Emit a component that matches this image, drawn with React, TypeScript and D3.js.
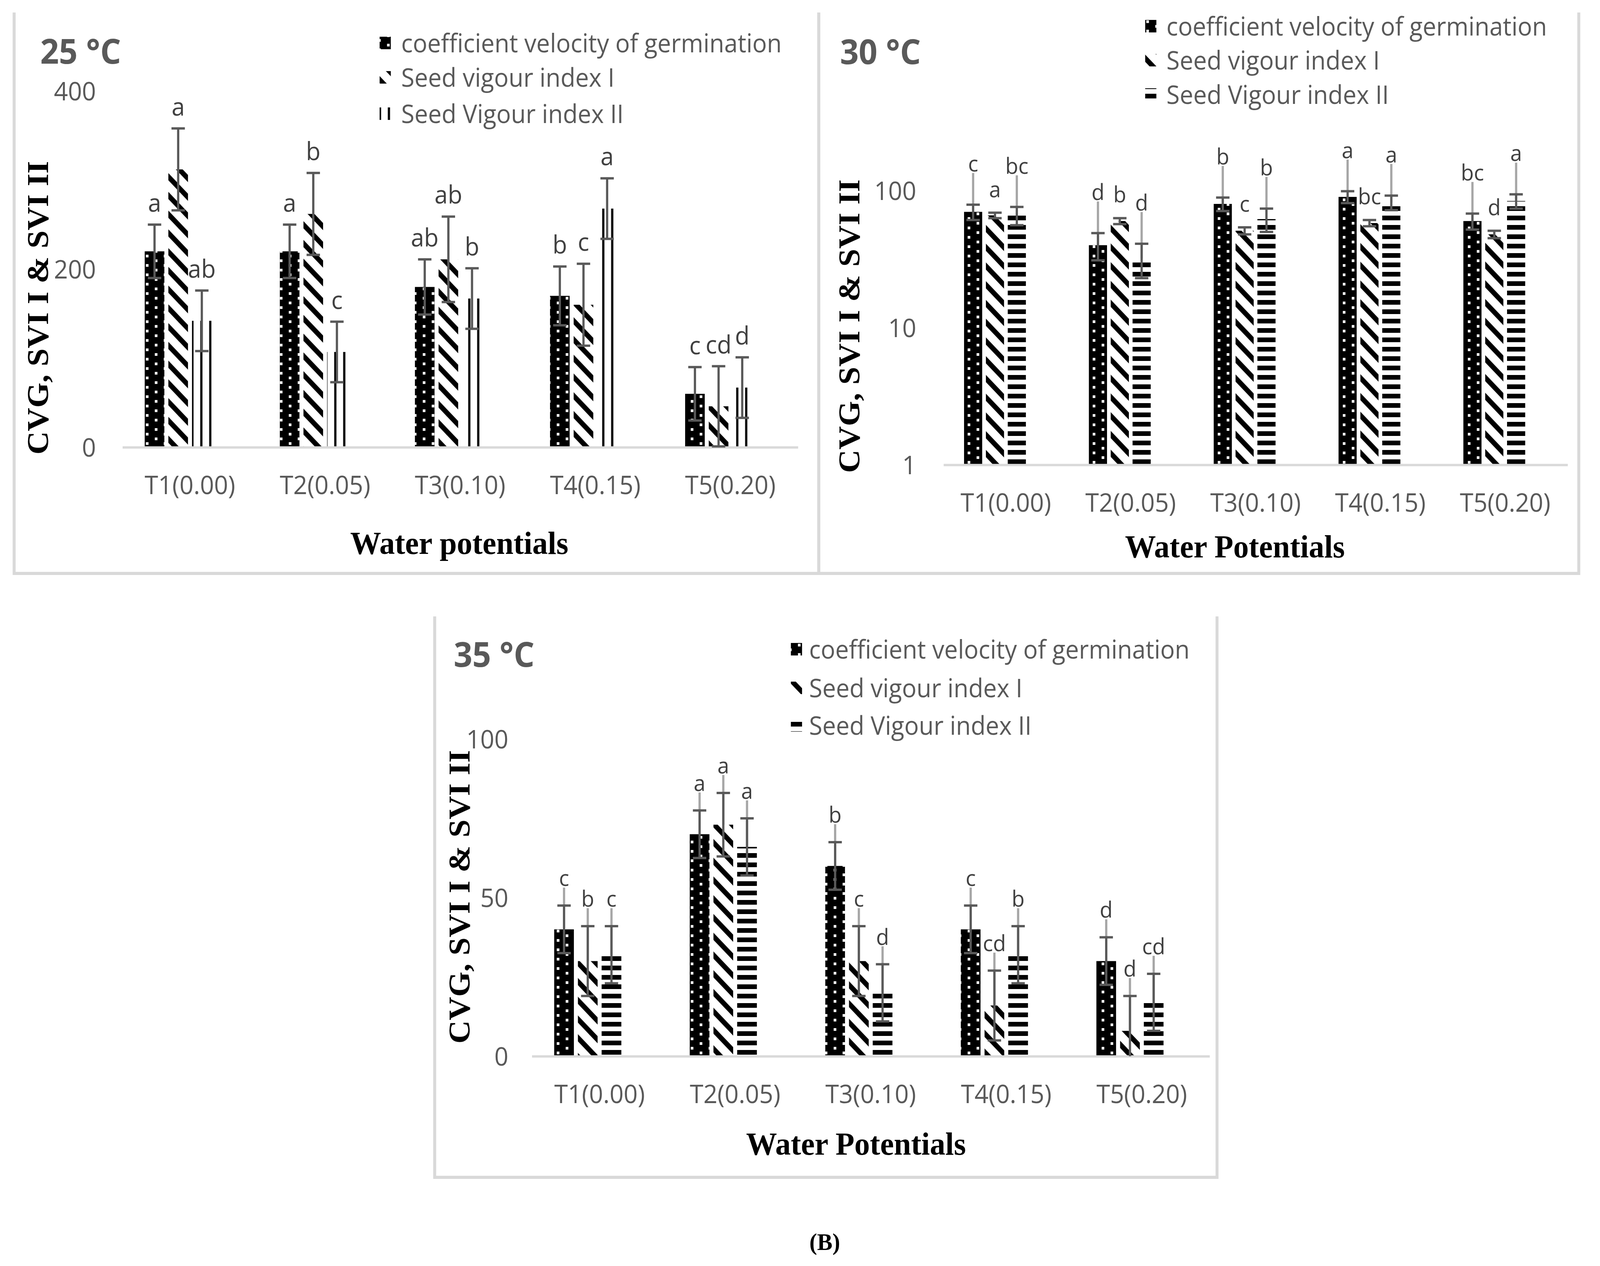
import * as d3 from "d3";
import { useEffect, useRef } from "react";

const W = 4299;
const H = 3241;

const categories = ["T1(0.00)", "T2(0.05)", "T3(0.10)", "T4(0.15)", "T5(0.20)"];
const seriesNames = [
  "coefficient velocity of germination",
  "Seed vigour index I",
  "Seed Vigour index II",
];

// 25 °C
const cvg25 = [220, 220, 180, 170, 60];
const cvg25Err = [30, 30, 31, 33, 30];
const svi1At25 = [312, 262, 211, 160, 46];
const svi1At25Err = [46, 46, 48, 46, 45];
const svi2At25 = [142, 107, 167, 268, 67];
const svi2At25Err = [34, 34, 34, 34, 34];
const cvg25Letters = ["a", "a", "ab", "b", "c"];
const svi1At25Letters = ["a", "b", "ab", "c", "cd"];
const svi2At25Letters = ["ab", "c", "b", "a", "d"];
const ticks25 = [0, 200, 400];

// 30 °C (log axis)
const cvg30 = [70, 40, 80, 90, 60];
const cvg30Err = [9, 9, 9, 9, 8];
const svi1At30 = [66, 60, 51, 58, 48];
const svi1At30Err = [3, 3, 3, 3, 3];
const svi2At30 = [66, 32, 62, 82, 84];
const svi2At30Err = [10, 9, 12, 10, 10];
const cvg30Letters = ["c", "d", "b", "a", "bc"];
const svi1At30Letters = ["a", "b", "c", "bc", "d"];
const svi2At30Letters = ["bc", "d", "b", "a", "a"];
const ticks30 = [1, 10, 100];

// 35 °C
const cvg35 = [40, 70, 60, 40, 30];
const cvg35Err = [7.5, 7.5, 7.5, 7.5, 7.5];
const svi1At35 = [30, 73, 30, 16, 8];
const svi1At35Err = [11, 10, 11, 11, 11];
const svi2At35 = [32, 66, 20, 32, 17];
const svi2At35Err = [9, 9, 9, 9, 9];
const cvg35Letters = ["c", "a", "b", "c", "d"];
const svi1At35Letters = ["b", "a", "c", "cd", "d"];
const svi2At35Letters = ["c", "a", "d", "b", "cd"];
const ticks35 = [0, 50, 100];

interface PanelSpec {
  temp: string;
  values: number[][];
  errs: number[][];
  letters: string[][];
  ticks: number[];
  log: boolean;
  yDomain: [number, number];
  frame: [number, number, number, number];
  axisX: [number, number];
  axisY: [number, number];
  tickRight: number;
  tempAt: [number, number];
  legendX: [number, number];
  legendY: number[];
  yTitleAt: [number, number];
  xTitle: string;
  xTitleAt: [number, number];
  patterns: string[];
  labelGap: number[];
  labelSize: number;
  leaders: boolean[];
}

const panels: PanelSpec[] = [
  {
    temp: "25 °C",
    values: [cvg25, svi1At25, svi2At25],
    errs: [cvg25Err, svi1At25Err, svi2At25Err],
    letters: [cvg25Letters, svi1At25Letters, svi2At25Letters],
    ticks: ticks25,
    log: false,
    yDomain: [0, 400],
    frame: [38, 2200, 32, 1468],
    axisX: [329, 2144],
    axisY: [1145, 233],
    tickRight: 258,
    tempAt: [108, 163],
    legendX: [1020, 1078],
    legendY: [134, 222, 315],
    yTitleAt: [101, 788],
    xTitle: "Water potentials",
    xTitleAt: [1234, 1418],
    patterns: ["pDots", "pDiag", "pVert"],
    labelGap: [33, 33, 33],
    labelSize: 64,
    leaders: [false, false, false],
  },
  {
    temp: "30 °C",
    values: [cvg30, svi1At30, svi2At30],
    errs: [cvg30Err, svi1At30Err, svi2At30Err],
    letters: [cvg30Letters, svi1At30Letters, svi2At30Letters],
    ticks: ticks30,
    log: true,
    yDomain: [1, 100],
    frame: [2200, 4242, 32, 1468],
    axisX: [2535, 4212],
    axisY: [1190, 488],
    tickRight: 2462,
    tempAt: [2257, 164],
    legendX: [3077, 3134],
    legendY: [91, 178, 266],
    yTitleAt: [2281, 835],
    xTitle: "Water Potentials",
    xTitleAt: [3318, 1427],
    patterns: ["pDots", "pDiag", "pHorz"],
    labelGap: [85, 40, 85],
    labelSize: 57,
    leaders: [true, false, true],
  },
  {
    temp: "35 °C",
    values: [cvg35, svi1At35, svi2At35],
    errs: [cvg35Err, svi1At35Err, svi2At35Err],
    letters: [cvg35Letters, svi1At35Letters, svi2At35Letters],
    ticks: ticks35,
    log: false,
    yDomain: [0, 100],
    frame: [1168, 3270, 1578, 3014],
    axisX: [1429, 3250],
    axisY: [2704, 1892],
    tickRight: 1366,
    tempAt: [1219, 1707],
    legendX: [2125, 2174],
    legendY: [1686, 1785, 1881],
    yTitleAt: [1234, 2296],
    xTitle: "Water Potentials",
    xTitleAt: [2300, 2956],
    patterns: ["pDots", "pDiag", "pHorz"],
    labelGap: [50, 50, 50],
    labelSize: 57,
    leaders: [true, true, true],
  },
];

const SANS = "'Open Sans', 'Noto Sans', sans-serif";
const SERIF = "'Liberation Serif', 'Times New Roman', serif";
const GREY_TEXT = "#595959";

type Sel = d3.Selection<SVGSVGElement, unknown, null, undefined>;

function addPatterns(svg: Sel) {
  const defs = svg.append("defs");

  // black with white dots
  const dots = defs.append("pattern").attr("id", "pDots")
    .attr("patternUnits", "userSpaceOnUse").attr("width", 48).attr("height", 48);
  dots.append("rect").attr("width", 48).attr("height", 48).attr("fill", "#000");
  [[0, 0], [0, 24], [24, 12], [24, 36]].forEach(([x, y]) => {
    dots.append("rect").attr("x", x + 8).attr("y", y + 4)
      .attr("width", 7).attr("height", 7).attr("fill", "#fff");
  });

  // wide downward diagonal
  const diag = defs.append("pattern").attr("id", "pDiag")
    .attr("patternUnits", "userSpaceOnUse").attr("width", 48).attr("height", 48);
  diag.append("rect").attr("width", 48).attr("height", 48).attr("fill", "#fff");
  [-48, 0, 48].forEach((o) => {
    diag.append("line")
      .attr("x1", o - 24).attr("y1", -24).attr("x2", o + 72).attr("y2", 72)
      .attr("stroke", "#000").attr("stroke-width", 13);
  });

  // horizontal stripes
  const horz = defs.append("pattern").attr("id", "pHorz")
    .attr("patternUnits", "userSpaceOnUse").attr("width", 24).attr("height", 24);
  horz.append("rect").attr("width", 24).attr("height", 24).attr("fill", "#fff");
  horz.append("rect").attr("width", 24).attr("height", 12).attr("fill", "#000");

  // vertical lines
  const vert = defs.append("pattern").attr("id", "pVert")
    .attr("patternUnits", "userSpaceOnUse").attr("width", 24).attr("height", 24);
  vert.append("rect").attr("width", 24).attr("height", 24).attr("fill", "#fff");
  vert.append("rect").attr("x", 10).attr("width", 6).attr("height", 24).attr("fill", "#000");
}

function drawPanel(svg: Sel, p: PanelSpec) {
  const g = svg.append("g");
  const [fx0, fx1, fy0, fy1] = p.frame;

  // frame (left, bottom, right)
  g.append("path")
    .attr("d", `M${fx0},${fy0}V${fy1}H${fx1}V${fy0}`)
    .attr("fill", "none").attr("stroke", "#d9d9d9").attr("stroke-width", 8);

  const x = d3.scaleBand<string>().domain(categories).range(p.axisX);
  const y = p.log
    ? d3.scaleLog().domain(p.yDomain).range(p.axisY)
    : d3.scaleLinear().domain(p.yDomain).range(p.axisY);
  const slot = x.bandwidth() * 0.175;
  const sub = d3.scaleBand<number>().domain([0, 1, 2, 3])
    .range([-2 * slot, 2 * slot]).paddingInner(0.17).paddingOuter(0.085);
  const barW = sub.bandwidth();
  const base = p.yDomain[0];

  // y tick labels
  const yAxis = g.append("g")
    .attr("transform", `translate(${p.axisX[0]},0)`)
    .call(d3.axisLeft(y as any).tickValues(p.ticks).tickSize(0)
      .tickPadding(p.axisX[0] - p.tickRight).tickFormat((d: any) => String(d)));
  yAxis.select(".domain").remove();
  yAxis.selectAll("text").attr("font-family", SANS).attr("font-size", 66)
    .attr("fill", GREY_TEXT).attr("dy", "0.36em");

  // bars
  p.values.forEach((vals, s) => {
    g.append("g").selectAll("rect").data(vals).join("rect")
      .attr("x", (_, i) => x(categories[i])! + x.bandwidth() / 2 + sub(s)!)
      .attr("width", barW)
      .attr("y", (d) => y(d))
      .attr("height", (d) => y(base) - y(d))
      .attr("fill", `url(#${p.patterns[s]})`);
  });

  // x axis
  const xAxis = g.append("g")
    .attr("transform", `translate(0,${p.axisY[0]})`)
    .call(d3.axisBottom(x).tickSize(0).tickSizeOuter(0).tickPadding(73));
  xAxis.select(".domain").attr("stroke", "#d9d9d9").attr("stroke-width", 6);
  xAxis.selectAll("text").attr("font-family", SANS).attr("font-size", 66).attr("fill", GREY_TEXT);

  // leader lines, error bars, letters
  p.values.forEach((vals, s) => {
    vals.forEach((v, i) => {
      const cx = x(categories[i])! + x.bandwidth() / 2 + sub(s)! + barW / 2;
      const e = p.errs[s][i];
      const hiY = y(v + e);
      const lo = v - e;
      const loY = lo > base ? y(lo) : y(base);
      const labelY = hiY - p.labelGap[s];
      if (p.leaders[s]) {
        g.append("line")
          .attr("x1", cx).attr("x2", cx).attr("y1", y(v)).attr("y2", labelY + 4)
          .attr("stroke", "#a6a6a6").attr("stroke-width", 6);
      }
      g.append("line")
        .attr("x1", cx).attr("x2", cx).attr("y1", hiY).attr("y2", loY)
        .attr("stroke", "#595959").attr("stroke-width", 6);
      g.append("line")
        .attr("x1", cx - 18).attr("x2", cx + 18).attr("y1", hiY).attr("y2", hiY)
        .attr("stroke", "#595959").attr("stroke-width", 6);
      if (lo > base) {
        g.append("line")
          .attr("x1", cx - 18).attr("x2", cx + 18).attr("y1", loY).attr("y2", loY)
          .attr("stroke", "#595959").attr("stroke-width", 6);
      }
      g.append("text")
        .attr("x", cx).attr("y", labelY)
        .attr("text-anchor", "middle")
        .attr("font-family", SANS).attr("font-size", p.labelSize).attr("fill", "#404040")
        .text(p.letters[s][i]);
    });
  });

  // temperature
  g.append("text")
    .attr("x", p.tempAt[0]).attr("y", p.tempAt[1])
    .attr("font-family", SANS).attr("font-weight", 700).attr("font-size", 88)
    .attr("fill", GREY_TEXT)
    .text(p.temp);

  // legend
  seriesNames.forEach((name, s) => {
    const by = p.legendY[s];
    g.append("rect")
      .attr("x", p.legendX[0]).attr("y", by - 40)
      .attr("width", 30).attr("height", 32)
      .attr("fill", `url(#${p.patterns[s]})`);
    g.append("text")
      .attr("x", p.legendX[1]).attr("y", by)
      .attr("font-family", SANS).attr("font-size", 65).attr("fill", GREY_TEXT)
      .text(name);
  });

  // axis titles
  g.append("text")
    .attr("transform", `translate(${p.yTitleAt[0] + 28},${p.yTitleAt[1]}) rotate(-90)`)
    .attr("text-anchor", "middle")
    .attr("font-family", SERIF).attr("font-weight", 700).attr("font-size", 83)
    .attr("fill", "#000")
    .text("CVG, SVI I & SVI II");
  g.append("text")
    .attr("x", p.xTitleAt[0]).attr("y", p.xTitleAt[1])
    .attr("text-anchor", "middle")
    .attr("font-family", SERIF).attr("font-weight", 700).attr("font-size", 83)
    .attr("fill", "#000")
    .text(p.xTitle);
}

export default function App() {
  const svgRef = useRef<SVGSVGElement | null>(null);

  useEffect(() => {
    if (!svgRef.current) return;
    const svg = d3.select(svgRef.current);
    svg.selectAll("*").remove();

    svg.append("rect").attr("width", W).attr("height", H).attr("fill", "#fff");
    addPatterns(svg);
    panels.forEach((p) => drawPanel(svg, p));

    svg.append("text")
      .attr("x", 2216).attr("y", 3200)
      .attr("text-anchor", "middle")
      .attr("font-family", SERIF).attr("font-weight", 700).attr("font-size", 62)
      .attr("fill", "#000")
      .text("(B)");
  }, []);

  return (
    <svg
      ref={svgRef}
      viewBox={`0 0 ${W} ${H}`}
      preserveAspectRatio="none"
      style={{
        position: "fixed",
        left: 0,
        top: 0,
        width: "100vw",
        height: "100vh",
        display: "block",
      }}
    />
  );
}
